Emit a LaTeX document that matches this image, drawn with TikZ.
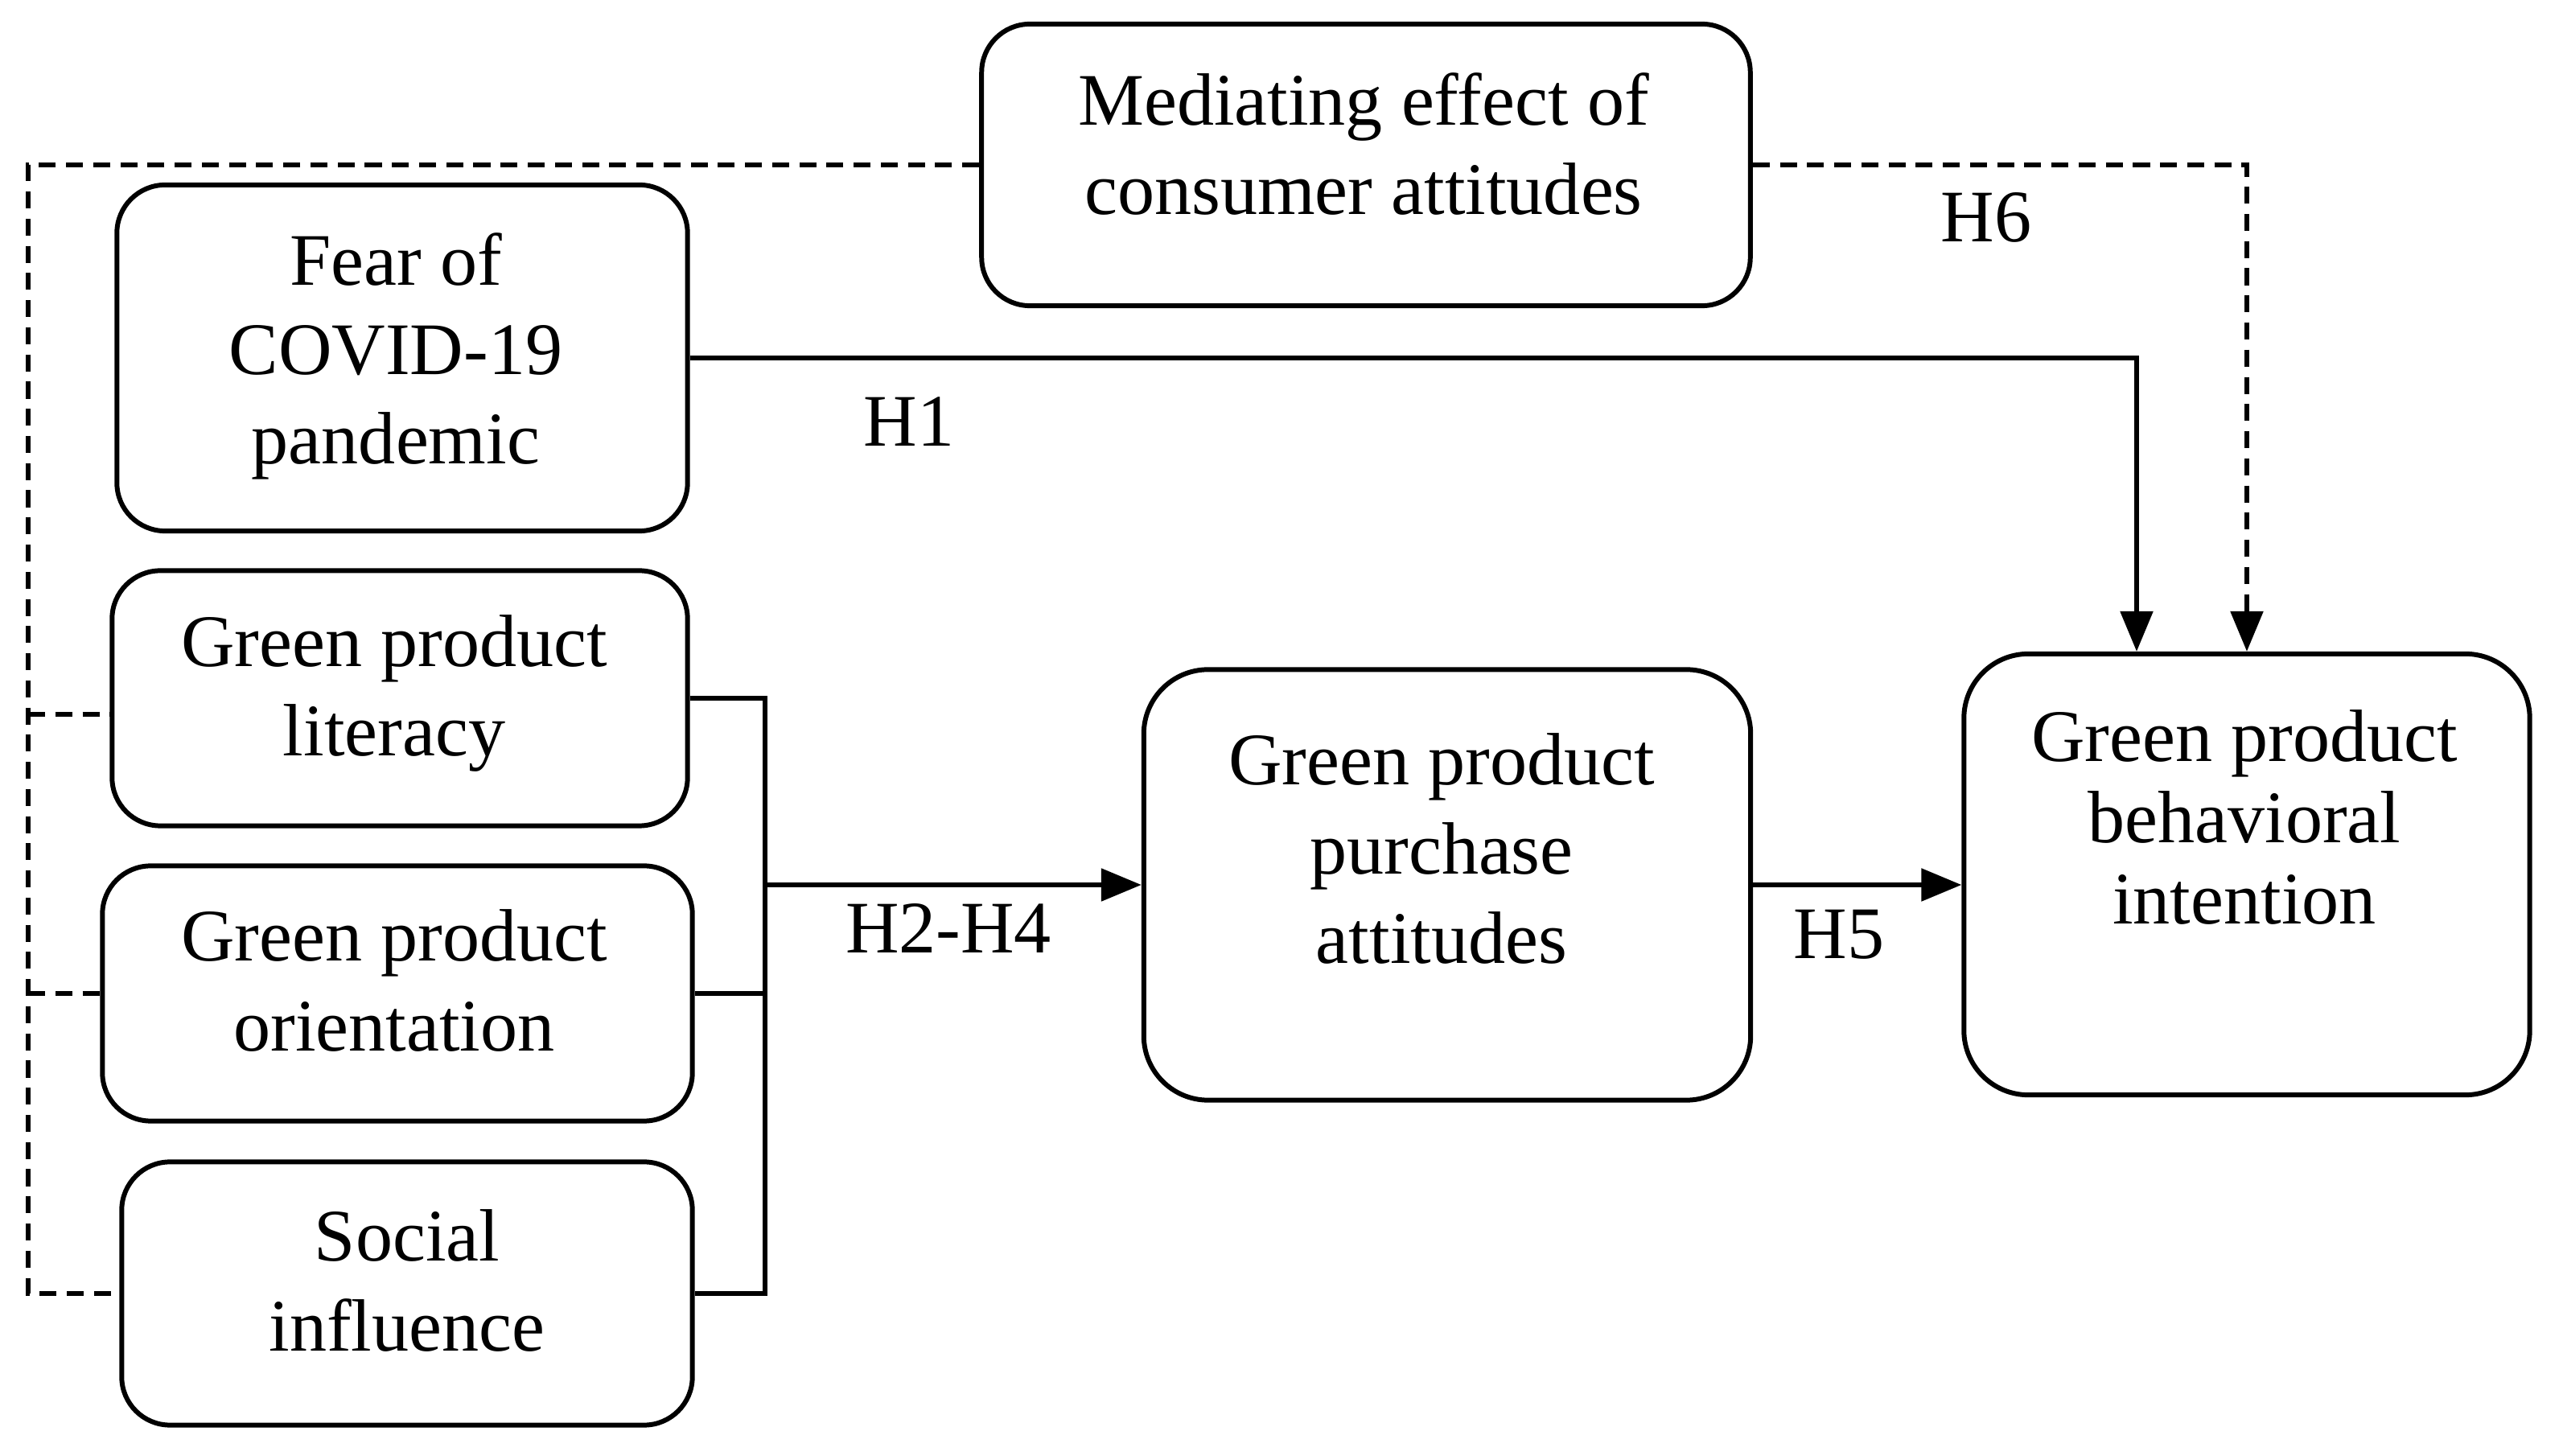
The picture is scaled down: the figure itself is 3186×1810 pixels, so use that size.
\documentclass[tikz,border=0pt]{standalone}
\usepackage{fontspec}
\setmainfont{Liberation Serif}
\usetikzlibrary{arrows.meta,calc}
\begin{document}
\begin{tikzpicture}[x=0.01cm,y=-0.01cm,
  box/.style={draw,line width=1.7pt,rounded corners=0.6cm,inner sep=0pt},
  bigbox/.style={box,rounded corners=0.8cm},
  txt/.style={align=center,inner sep=0pt,font=\fontsize{26.2}{31.6}\selectfont},
  lbl/.style={inner sep=0pt,font=\fontsize{26.2}{31.6}\selectfont},
  conn/.style={line width=1.6pt},
  dconn/.style={line width=1.6pt,dash pattern=on 6pt off 3.6pt},
  tip/.style={-{Triangle[length=0.5cm,width=0.4cm]}}]
\useasboundingbox[fill=white] (0,0) rectangle (3186,1810);
% boxes
\node[box,minimum width=9.55cm,minimum height=3.5cm] (med) at (1698,205) {};
\node[box,minimum width=7.09cm,minimum height=4.3cm] (fear) at (500,445) {};
\node[box,minimum width=7.15cm,minimum height=3.17cm] (lit) at (497,868) {};
\node[box,minimum width=7.33cm,minimum height=3.17cm] (ori) at (494,1235) {};
\node[box,minimum width=7.09cm,minimum height=3.27cm] (soc) at (506,1608) {};
\node[bigbox,minimum width=7.54cm,minimum height=5.35cm] (pur) at (1799,1100) {};
\node[bigbox,minimum width=7.03cm,minimum height=5.48cm] (beh) at (2793,1087) {};
% texts
\node[txt] (tmed) at (1695,179) {Mediating effect of\\consumer attitudes};
\node[txt] (tfear) at (492,443) {Fear of\\COVID-19\\pandemic};
\node[txt] (tlit) at (490,862) {Green product\\literacy};
\node[txt] (tori) at (490,1219) {Green product\\orientation};
\node[txt] (tsoc) at (506,1592) {Social\\influence};
\node[txt] (tpur) at (1792,1055) {Green product\\purchase\\attitudes};
\node[txt,font=\fontsize{26.2}{28.6}\selectfont] (tbeh) at (2790,1016) {Green product\\behavioral\\intention};
% labels
\node[lbl] (h6) at (2469,270) {H6};
\node[lbl] (h1) at (1130,524) {H1};
\node[lbl] (h24) at (1179,1154) {H2-H4};
\node[lbl] (h5) at (2286,1162) {H5};
% dashed mediating paths
\coordinate (L) at (35,0);
\draw[dconn] (med.west) -- (med.west -| L) |- (soc.west);
\draw[dconn] ($(lit.west -| L)+(0,20)$) -- ($(lit.west)+(0,20)$);
\draw[dconn] (L |- ori.west) -- (ori.west);
\draw[dconn,tip] (med.east) -| (beh.north);
% H1
\draw[conn,tip] (fear.east) -| ($(beh.north)+(-137,0)$);
% bracket
\coordinate (B) at (951,0);
\draw[conn] (lit.east) -- (lit.east -| B) -- (soc.east -| B) -- (soc.east);
\draw[conn] (ori.east) -- (ori.east -| B);
\draw[conn,tip] (pur.west -| B) -- (pur.west);
% H5
\draw[conn,tip] (pur.east) -- (pur.east -| beh.west);
\end{tikzpicture}
\end{document}
